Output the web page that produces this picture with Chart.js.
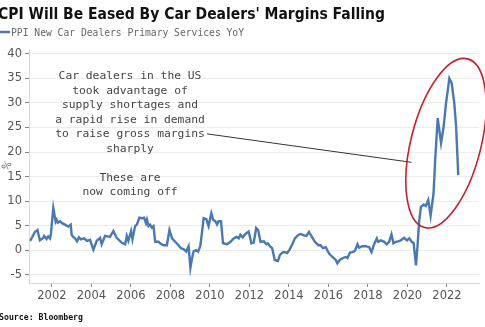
<!DOCTYPE html>
<html>
<head>
<meta charset="utf-8">
<script src="https://cdn.jsdelivr.net/npm/chart.js@4"></script>
<style>
  body { margin: 0; background: #fff; }
  #wrap { width: 485px; height: 327px; position: relative; }
</style>
</head>
<body>
<div id="wrap"><canvas id="myChart"></canvas></div>
<script>
// values (year as decimal, YoY %)
var years = [2000.9, 2001.14, 2001.27, 2001.39, 2001.56, 2001.61, 2001.73, 2001.81, 2001.9, 2001.95,
  2002.07, 2002.19, 2002.24, 2002.3, 2002.41, 2002.51, 2002.66, 2002.83, 2002.95, 2003.0,
  2003.08, 2003.17, 2003.27, 2003.37, 2003.47, 2003.62, 2003.78, 2003.93, 2004.1, 2004.27,
  2004.44, 2004.52, 2004.69, 2004.94, 2005.11, 2005.28, 2005.54, 2005.71, 2005.79, 2005.87,
  2006.01, 2006.08, 2006.21, 2006.3, 2006.43, 2006.55, 2006.67, 2006.76, 2006.81, 2006.89,
  2006.97, 2007.06, 2007.14, 2007.23, 2007.4, 2007.48, 2007.65, 2007.82, 2007.95, 2008.08,
  2008.24, 2008.41, 2008.53, 2008.66, 2008.8, 2008.92, 2009.01, 2009.09, 2009.17, 2009.29,
  2009.4, 2009.51, 2009.6, 2009.68, 2009.82, 2009.93, 2010.07, 2010.16, 2010.27, 2010.36,
  2010.44, 2010.56, 2010.66, 2010.87, 2011.04, 2011.2, 2011.34, 2011.46, 2011.54, 2011.66,
  2011.8, 2011.96, 2012.1, 2012.22, 2012.34, 2012.44, 2012.56, 2012.73, 2012.85, 2012.93,
  2013.03, 2013.15, 2013.28, 2013.44, 2013.54, 2013.66, 2013.79, 2013.91, 2014.03, 2014.17,
  2014.3, 2014.47, 2014.59, 2014.76, 2014.88, 2015.01, 2015.15, 2015.31, 2015.49, 2015.6,
  2015.72, 2015.86, 2016.03, 2016.2, 2016.37, 2016.45, 2016.57, 2016.74, 2016.87, 2016.96,
  2017.09, 2017.21, 2017.33, 2017.47, 2017.55, 2017.72, 2017.89, 2018.06, 2018.18, 2018.31,
  2018.45, 2018.51, 2018.65, 2018.82, 2018.95, 2019.07, 2019.19, 2019.29, 2019.41, 2019.53,
  2019.66, 2019.83, 2019.97, 2020.09, 2020.21, 2020.31, 2020.43, 2020.51, 2020.59, 2020.68,
  2020.82, 2020.93, 2021.05, 2021.17, 2021.32, 2021.41, 2021.53, 2021.7, 2021.83, 2021.95,
  2022.12, 2022.24, 2022.37, 2022.46, 2022.57];
var ppiYoY = [1.9, 3.7, 4.1, 2.0, 2.5, 2.9, 2.3, 2.8, 2.4, 3.3,
  8.6, 5.8, 6.2, 5.6, 5.9, 5.5, 5.2, 4.8, 5.2, 3.1,
  2.7, 2.4, 1.8, 2.6, 2.2, 2.4, 1.9, 2.1, 0.1, 1.9,
  2.5, 1.2, 2.9, 2.7, 3.9, 2.5, 1.5, 1.2, 2.9, 1.9,
  3.9, 2.2, 4.9, 5.2, 6.6, 6.5, 6.6, 5.5, 6.2, 4.9,
  5.2, 4.6, 4.9, 1.7, 1.7, 1.4, 1.0, 1.0, 4.1, 2.4,
  1.7, 1.0, 0.4, 0.2, -0.3, 0.8, -3.6, -1.7, -0.3, 0.0,
  -0.3, 0.8, 3.7, 6.5, 6.3, 4.9, 7.5, 6.2, 5.9, 5.2,
  5.9, 5.9, 1.4, 1.2, 1.7, 2.4, 2.7, 2.4, 3.1, 2.6,
  3.3, 3.8, 1.4, 1.6, 4.5, 4.1, 1.7, 1.8, 1.2, 1.4,
  0.8, 0.4, -2.0, -2.2, -1.0, -0.5, -0.4, -0.6, 0.1, 1.2,
  2.4, 3.1, 3.3, 3.0, 2.9, 3.7, 2.8, 1.7, 1.0, 1.0,
  0.4, 0.6, -0.7, -1.4, -2.0, -2.7, -2.0, -1.6, -1.4, -1.6,
  -0.5, -0.4, -0.2, 1.2, 0.5, 0.8, 0.8, 0.6, -0.4, 1.2,
  2.4, 1.7, 2.0, 1.7, 1.2, 1.7, 3.2, 1.4, 1.7, 1.8,
  2.0, 2.5, 2.0, 2.4, 1.7, 1.5, -3.1, 1.0, 5.8, 8.8,
  9.3, 9.0, 10.2, 7.0, 11.6, 19.0, 26.9, 21.8, 25.2, 29.9,
  35.0, 34.0, 29.9, 25.2, 15.3];
var xTickYears = [2002, 2004, 2006, 2008, 2010, 2012, 2014, 2016, 2018, 2020, 2022];
var yTicks = [-5, 0, 5, 10, 15, 20, 25, 30, 35, 40];

var titleText = "CPI Will Be Eased By Car Dealers' Margins Falling";
var seriesName = "PPI New Car Dealers Primary Services YoY";
var sourceText = "Source: Bloomberg";
var noteLines = ["Car dealers in the US", "took advantage of", "supply shortages and",
  "a rapid rise in demand", "to raise gross margins", "sharply", "", "These are", "now coming off"];

var blue = '#4a78b3';

function fitText(ctx, txt, x, y, w, font) {
    ctx.save();
    ctx.font = font;
    var m = ctx.measureText(txt).width;
    ctx.translate(x, y);
    ctx.scale(w / m, 1);
    ctx.fillText(txt, 0, 0);
    ctx.restore();
}

var extras = {
    id: 'extras',
    afterDraw: function(chart) {
        var c = chart.ctx;
        var xs = chart.scales.x, ys = chart.scales.y;
        c.save();
        c.textAlign = 'left';
        c.textBaseline = 'alphabetic';
        c.fillStyle = '#111';
        fitText(c, titleText, -2, 19, 387, 'bold 16px "DejaVu Sans"');

        // legend
        c.strokeStyle = blue; c.lineWidth = 2.5;
        c.beginPath(); c.moveTo(0, 32); c.lineTo(10, 32); c.stroke();
        c.fillStyle = '#666';
        fitText(c, seriesName, 11, 36, 233, '10px "DejaVu Sans Mono"');

        c.fillStyle = '#111';
        fitText(c, sourceText, -1, 320, 84, 'bold 9.5px "DejaVu Sans Mono"');

        // % unit
        c.save();
        c.translate(7, 166);
        c.rotate(-Math.PI / 2 + 0.6);
        c.fillStyle = '#666';
        c.font = '10px "DejaVu Sans"';
        c.textAlign = 'center';
        c.fillText('%', 0, 3);
        c.restore();

        // annotation text
        c.fillStyle = '#444';
        c.font = '11.3px "DejaVu Sans Mono"';
        c.textAlign = 'center';
        for (var i = 0; i < noteLines.length; i++) {
            c.fillText(noteLines[i], 130, 79 + i * 14.5);
        }

        // pointer line
        c.strokeStyle = '#333'; c.lineWidth = 1;
        c.beginPath();
        c.moveTo(xs.getPixelForValue(2009.85), ys.getPixelForValue(23.7));
        c.lineTo(xs.getPixelForValue(2020.2), ys.getPixelForValue(17.9));
        c.stroke();

        // red ellipse
        c.strokeStyle = '#c8202b'; c.lineWidth = 1.6;
        c.beginPath();
        c.ellipse(xs.getPixelForValue(2021.95), ys.getPixelForValue(21.8), 35, 87, 0.25, 0, Math.PI * 2);
        c.stroke();
        c.restore();
    }
};

var ctx = document.getElementById("myChart").getContext('2d');
var myChart = new Chart(ctx, {
    type: 'line',
    data: {
        datasets: [{
            label: seriesName,
            data: years.map(function(y, i) { return {x: y, y: ppiYoY[i]}; }),
            borderColor: blue,
            borderWidth: 2.4,
            pointRadius: 0,
            tension: 0,
            fill: false
        }]
    },
    options: {
        responsive: true,
        maintainAspectRatio: false,
        animation: false,
        layout: { padding: { top: 49, left: 0, right: 6, bottom: 24 } },
        plugins: { legend: { display: false }, tooltip: { enabled: false } },
        scales: {
            x: {
                type: 'linear',
                min: 2000.84,
                max: 2023.62,
                afterBuildTicks: function(s) { s.ticks = xTickYears.map(function(v) { return {value: v}; }); },
                afterFit: function(s) { s.height = 20; },
                ticks: {
                    autoSkip: false, maxRotation: 0, padding: 2,
                    color: '#555', font: { family: 'DejaVu Sans', size: 11.5 },
                    callback: function(v) { return String(v); }
                },
                grid: { drawOnChartArea: false, tickLength: 4, tickColor: '#888' },
                border: { color: '#d8d8d8' }
            },
            y: {
                min: -6.7,
                max: 41,
                afterBuildTicks: function(s) { s.ticks = yTicks.map(function(v) { return {value: v}; }); },
                afterFit: function(s) { s.width = 29; },
                ticks: {
                    padding: 3, color: '#555', font: { family: 'DejaVu Sans', size: 11.5 }
                },
                grid: { color: '#ececec', tickLength: 4, tickColor: '#888' },
                border: { color: '#d8d8d8' }
            }
        }
    },
    plugins: [extras]
});
</script>
</body>
</html>
